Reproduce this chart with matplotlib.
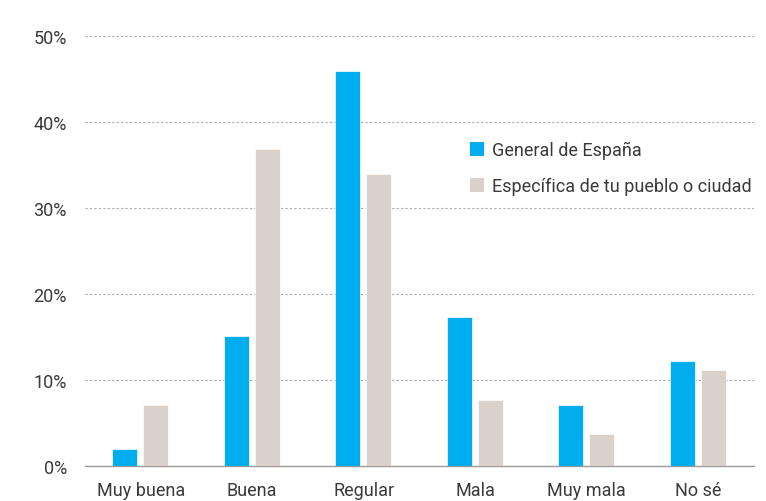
import matplotlib
matplotlib.use("Agg")
import matplotlib.pyplot as plt
import numpy as np
from matplotlib.patches import Patch

categories = ["Muy buena", "Buena", "Regular", "Mala", "Muy mala", "No sé"]
general = [2.0, 15.1, 45.9, 17.3, 7.1, 12.2]
especifica = [7.1, 36.9, 34.0, 7.7, 3.7, 11.2]
series_names = ["General de España", "Específica de tu pueblo o ciudad"]
yticks = [0, 10, 20, 30, 40, 50]

c_blue = "#00AEEF"
c_beige = "#D9D1CA"
txt = "#3A3A3A"

plt.rcParams['font.family'] = ['Roboto', 'DejaVu Sans']

fig = plt.figure(figsize=(7.66, 5.02), dpi=100)
ax = fig.add_axes([85/766, 1-467/502, (754-85)/766, (467-37)/502])

x = np.arange(len(categories))
w = 0.225
ax.bar(x - 0.145, general, width=w, color=c_blue, edgecolor="white", linewidth=0.5, zorder=3)
ax.bar(x + 0.135, especifica, width=w, color=c_beige, edgecolor="white", linewidth=0.5, zorder=3)

ax.set_xlim(-0.5, len(categories) - 0.5)
ax.set_ylim(0, 50)
ax.set_yticks(yticks)
ax.set_yticklabels([f"{v}%" for v in yticks])
ax.set_xticks(x)
ax.set_xticklabels(categories)
ax.tick_params(axis='both', length=0, labelsize=13, colors=txt)
ax.tick_params(axis='y', pad=13)
ax.tick_params(axis='x', pad=11)

ax.yaxis.grid(True, color="#AAAAAA", linestyle=(0, (2, 2)), linewidth=0.8, zorder=0)
ax.set_axisbelow(True)
for s in ["top", "right", "left"]:
    ax.spines[s].set_visible(False)
ax.spines["bottom"].set_color("#999999")
ax.spines["bottom"].set_linewidth(1.0)

handles = [Patch(facecolor=c_blue, edgecolor="none"), Patch(facecolor=c_beige, edgecolor="none")]
leg = ax.legend(handles, series_names, loc="upper left", bbox_to_anchor=((463-85)/669, 1-(135-37)/430),
                frameon=False, fontsize=13, handlelength=0.75, handleheight=0.85,
                handletextpad=0.45, labelspacing=0.98, borderaxespad=0)
for t in leg.get_texts():
    t.set_color(txt)

fig.savefig("out.png", dpi=100)
